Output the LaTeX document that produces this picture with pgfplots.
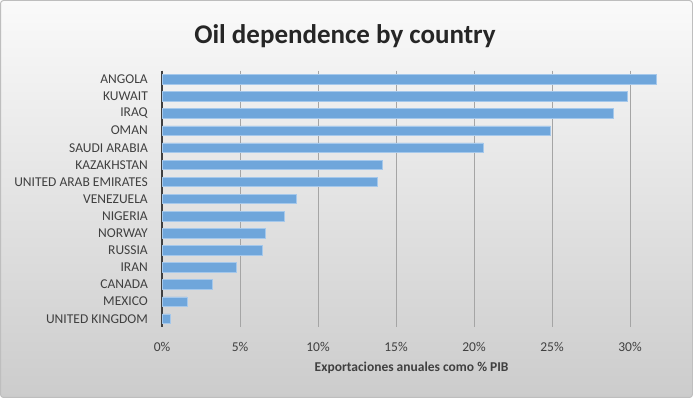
\documentclass[border=0pt]{standalone}
\usepackage{fontspec}
\setmainfont{Carlito}
\usepackage{pgfplots}
\pgfplotsset{compat=1.18}
\definecolor{barblue}{RGB}{111,166,219}
\definecolor{baredge}{RGB}{165,200,235}
\definecolor{gridgray}{RGB}{165,165,165}
\definecolor{axisgray}{RGB}{64,64,64}
\definecolor{labelgray}{RGB}{64,64,64}
\definecolor{titlegray}{RGB}{38,38,38}
\definecolor{bgtop}{RGB}{250,250,250}
\definecolor{bgbottom}{RGB}{204,204,204}
\definecolor{framegray}{RGB}{190,190,190}
\begin{document}
\begin{tikzpicture}
\shade[top color=bgtop, bottom color=bgbottom, draw=framegray, line width=1pt, rounded corners=3pt] (0.5pt,0.5pt) rectangle (692.5pt,397.5pt);
\useasboundingbox (0,0) rectangle (693pt,398pt);
\node[anchor=base, font=\fontsize{27}{32}\selectfont\bfseries, text=titlegray, inner sep=0pt] at (345pt,354.7pt) {Oil dependence by country};
\begin{axis}[
  at={(162pt,70.7pt)}, anchor=south west,
  scale only axis,
  width=499.2pt, height=256.6pt,
  xbar, bar width=9.5pt,
  xmin=0, xmax=32,
  ymin=-0.5, ymax=14.5,
  y dir=reverse,
  ytick={0,...,14},
  yticklabels={ANGOLA,KUWAIT,IRAQ,OMAN,SAUDI ARABIA,KAZAKHSTAN,UNITED ARAB EMIRATES,VENEZUELA,NIGERIA,NORWAY,RUSSIA,IRAN,CANADA,MEXICO,UNITED KINGDOM},
  xtick={0,5,10,15,20,25,30},
  xticklabel={\pgfmathprintnumber{\tick}\%},
  /pgf/number format/assume math mode=true,
  major tick length=0pt,
  tick style={draw=none},
  xmajorgrids,
  grid style={gridgray, line width=1pt},
  axis x line*=bottom,
  axis y line*=left,
  x axis line style={draw=none},
  y axis line style={axisgray, line width=2pt},
  ticklabel style={font=\fontsize{13.5}{16}\selectfont, text=labelgray},
  y tick label style={anchor=east, inner sep=0pt, xshift=-14pt},
  x tick label style={anchor=north, inner sep=0pt, yshift=-15pt},
  xlabel={Exportaciones anuales como \% PIB},
  xlabel style={at={(axis description cs:0.5,0)}, anchor=center, yshift=-41pt, font=\fontsize{13.5}{16}\selectfont\bfseries, text=labelgray},
  clip=false,
]
\addplot[fill=barblue, draw=baredge, line width=0.6pt] coordinates {
  (31.7,0) (29.8,1) (28.9,2) (24.9,3) (20.6,4) (14.1,5) (13.8,6) (8.6,7)
  (7.85,8) (6.6,9) (6.4,10) (4.75,11) (3.2,12) (1.6,13) (0.5,14)
};
\end{axis}
\end{tikzpicture}
\end{document}
